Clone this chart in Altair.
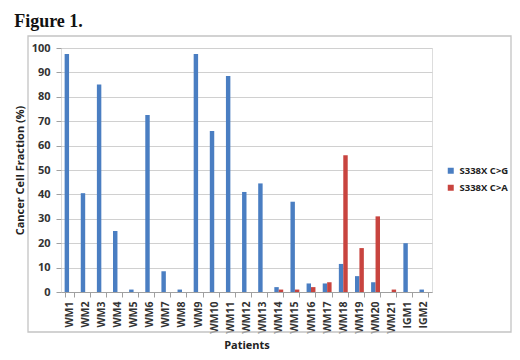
import altair as alt
import pandas as pd

patients = ["WM1", "WM2", "WM3", "WM4", "WM5", "WM6", "WM7", "WM8", "WM9", "WM10",
            "WM11", "WM12", "WM13", "WM14", "WM15", "WM16", "WM17", "WM18", "WM19",
            "WM20", "WM21", "IGM1", "IGM2"]
c_to_g = [97.5, 40.5, 85, 25, 1, 72.5, 8.5, 1, 97.5, 66,
          88.5, 41, 44.5, 2, 37, 3.5, 3.5, 11.5, 6.5,
          4, 0, 20, 1]
c_to_a = [0, 0, 0, 0, 0, 0, 0, 0, 0, 0,
          0, 0, 0, 1, 1, 2, 4, 56, 18,
          31, 1, 0, 0]
series = ["S338X C>G", "S338X C>A"]
colors = ["#4A7EC2", "#C8443F"]

rows = []
for p, g, a in zip(patients, c_to_g, c_to_a):
    rows.append({"Patient": p, "Series": series[0], "Value": g})
    rows.append({"Patient": p, "Series": series[1], "Value": a})
df = pd.DataFrame(rows)

font = "Open Sans"
L, R, T, B = -33, 450, -12, 284
frame = alt.Chart(df).mark_rect(
    fillOpacity=0, strokeWidth=1.3, stroke="#c4c4c4", opacity=1
).encode(
    x=alt.value(L), x2=alt.value(R), y=alt.value(T), y2=alt.value(B)
).transform_filter(alt.datum.Patient == "WM1").transform_filter(alt.datum.Series == series[0])

bars = alt.Chart(df).mark_bar().encode(
    x=alt.X("Patient:N", sort=patients,
            scale=alt.Scale(paddingInner=0.45, paddingOuter=0.225),
            axis=alt.Axis(title="Patients", labelAngle=-90, labelFontWeight="bold",
                          labelFontSize=10.5, labelColor="#333333", labelFont=font,
                          titleFont=font, titleFontSize=11, titleFontWeight="bold",
                          titleColor="#222222", titlePadding=6,
                          domainColor="#a0a0a0", tickColor="#a0a0a0", tickSize=5,
                          tickBand="extent", grid=False, labelPadding=4)),
    xOffset=alt.XOffset("Series:N", sort=series),
    y=alt.Y("Value:Q", scale=alt.Scale(domain=[0, 100]),
            axis=alt.Axis(title="Cancer Cell Fraction (%)", values=list(range(0, 101, 10)),
                          labelFontWeight="bold", labelFontSize=11, labelColor="#333333",
                          labelFont=font, titleFont=font, titleFontSize=11,
                          titleFontWeight="bold", titleColor="#222222", titlePadding=6,
                          domain=False, tickColor="#a0a0a0", tickSize=5, labelPadding=6,
                          gridColor="#d0d0d0", gridWidth=1.2)),
    color=alt.Color("Series:N", sort=series,
                    scale=alt.Scale(domain=series, range=colors),
                    legend=alt.Legend(title=None, orient="none", legendX=385, legendY=118,
                                      symbolType="square", symbolSize=36,
                                      labelFont=font, labelFontSize=9.5,
                                      labelFontWeight="bold", labelColor="#222222",
                                      rowPadding=6, symbolStrokeWidth=0)),
)

chart = alt.layer(bars, frame).properties(
    width=371, height=244,
    padding={"left": 6, "top": 5, "right": 0, "bottom": 0},
    title=alt.Title("Figure 1.", anchor="start", frame="bounds", font="Liberation Serif",
                    fontSize=18, fontWeight="bold", color="#111111", offset=4),
).configure_view(stroke=None).configure(background="white")

chart.save("out.html", embed_options={"renderer": "svg", "actions": False})
